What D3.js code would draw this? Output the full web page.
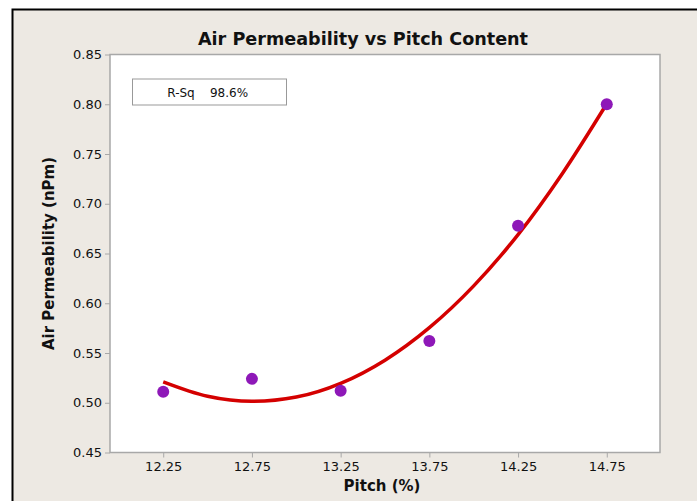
<!DOCTYPE html>
<html>
<head>
<meta charset="utf-8">
<script src="https://cdn.jsdelivr.net/npm/d3@7"></script>
<style>
  body { margin: 0; background: #ffffff; }
  text { font-family: Tahoma, "DejaVu Sans", sans-serif; fill: #111; }
</style>
</head>
<body>
<div id="chart"></div>
<script type="text/javascript">
// observed values
var pitch = [12.25, 12.75, 13.25, 13.75, 14.25, 14.75];
var permeability = [0.511, 0.524, 0.512, 0.562, 0.678, 0.800];

// fitted curve (quadratic)
var fitPitch = [12.25, 12.5, 12.75, 13.0, 13.25, 13.5, 13.75, 14.0, 14.25, 14.5, 14.75];
var fitPerm = [0.521, 0.5065, 0.5014, 0.5057, 0.5195, 0.5428, 0.5755, 0.6175, 0.669, 0.7305, 0.8005];

var xTicks = [12.25, 12.75, 13.25, 13.75, 14.25, 14.75];
var yTicks = [0.45, 0.50, 0.55, 0.60, 0.65, 0.70, 0.75, 0.80, 0.85];
var rsqLabel = "R-Sq", rsqValue = "98.6%";

var W = 697, H = 501;
var margin = {top: 54.5, right: 37, bottom: 48.5, left: 110},
    width = W - margin.left - margin.right,
    height = H - margin.top - margin.bottom;

var svg = d3.select("#chart").append("svg")
    .attr("width", W)
    .attr("height", H);

// background and outer frame
svg.append("rect").attr("width", W).attr("height", H).attr("fill", "#ffffff");
svg.append("rect").attr("x", 12.5).attr("y", 9.5).attr("width", W).attr("height", H)
    .attr("fill", "#ede9e3").attr("stroke", "#000").attr("stroke-width", 2);

var x = d3.scaleLinear().domain([11.95, 15.05]).range([0, width]);
var y = d3.scaleLinear().domain([0.45, 0.85]).range([height, 0]);

var g = svg.append("g")
    .attr("transform", "translate(" + margin.left + "," + margin.top + ")");

// plot area
g.append("rect")
    .attr("width", width).attr("height", height)
    .attr("fill", "#fff").attr("stroke", "#a8a8a8").attr("stroke-width", 1.5);

// axes
var yAxis = g.append("g")
    .call(d3.axisLeft(y).tickValues(yTicks).tickFormat(d3.format(".2f")).tickSize(5).tickPadding(3));
var xAxis = g.append("g")
    .attr("transform", "translate(0," + height + ")")
    .call(d3.axisBottom(x).tickValues(xTicks).tickFormat(d3.format(".2f")).tickSize(5).tickPadding(4));

[xAxis, yAxis].forEach(function(a) {
  a.select(".domain").remove();
  a.selectAll("line").attr("stroke", "#a8a8a8");
  a.selectAll("text").style("font-size", "13px").style("font-family", "Tahoma, 'DejaVu Sans', sans-serif").attr("fill", "#111");
});

// fitted line
var line = d3.line()
    .x(function(d, i) { return x(fitPitch[i]); })
    .y(function(d) { return y(d); })
    .curve(d3.curveMonotoneX);

g.append("path")
    .datum(fitPerm)
    .attr("d", line)
    .attr("fill", "none")
    .attr("stroke", "#d40000")
    .attr("stroke-width", 3.5);

// points
g.selectAll(".pt")
    .data(permeability)
  .enter().append("circle")
    .attr("class", "pt")
    .attr("cx", function(d, i) { return x(pitch[i]); })
    .attr("cy", function(d) { return y(d); })
    .attr("r", 6)
    .attr("fill", "#8e18b8");

// R-Sq box
g.append("rect")
    .attr("x", 22.5).attr("y", 24.5).attr("width", 154).attr("height", 26)
    .attr("fill", "#fff").attr("stroke", "#999").attr("stroke-width", 1);
g.append("text").attr("x", 71).attr("y", 42).attr("text-anchor", "middle")
    .style("font-size", "12px").text(rsqLabel);
g.append("text").attr("x", 119).attr("y", 42).attr("text-anchor", "middle")
    .style("font-size", "12px").text(rsqValue);

// title and labels
svg.append("text")
    .attr("x", 363).attr("y", 45)
    .attr("text-anchor", "middle")
    .style("font-size", "17.6px").style("font-weight", "bold")
    .text("Air Permeability vs Pitch Content");

svg.append("text")
    .attr("x", margin.left + width / 2 - 3).attr("y", 491)
    .attr("text-anchor", "middle")
    .style("font-size", "15px").style("font-weight", "bold")
    .text("Pitch (%)");

svg.append("text")
    .attr("transform", "translate(54," + (margin.top + height / 2) + ") rotate(-90)")
    .attr("text-anchor", "middle")
    .style("font-size", "15px").style("font-weight", "bold")
    .text("Air Permeability (nPm)");
</script>
</body>
</html>
